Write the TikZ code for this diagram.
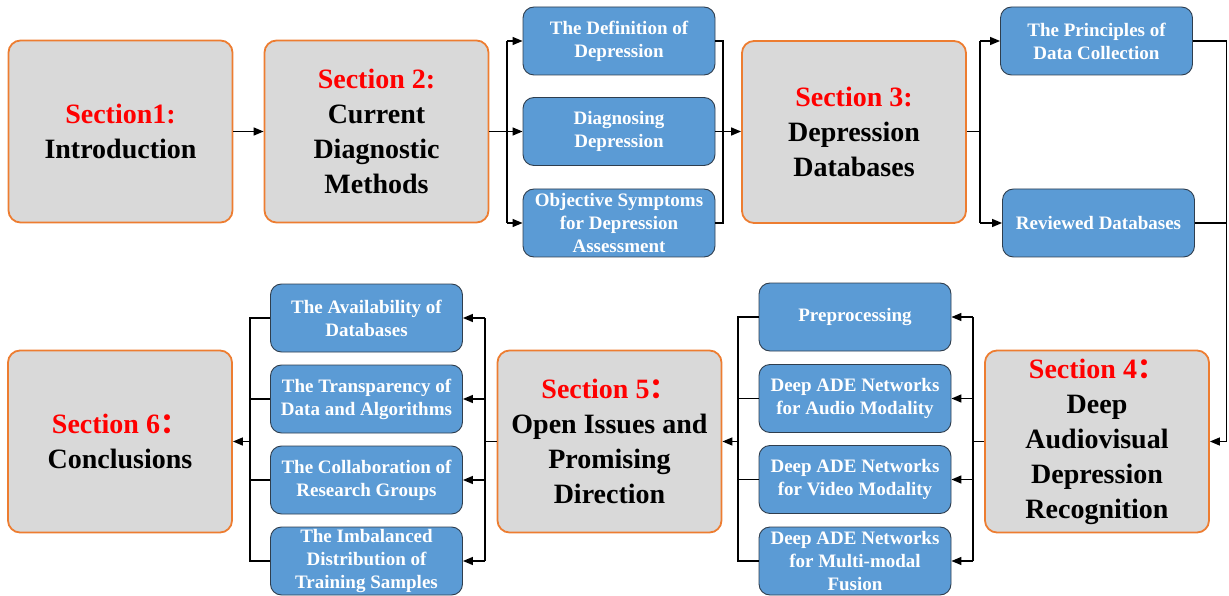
\documentclass[tikz,border=0pt]{standalone}
\usepackage{fontspec}
\setmainfont{Liberation Serif}
\newfontfamily\cjk{Noto Sans CJK SC}
\usetikzlibrary{arrows.meta}
\definecolor{sbox}{HTML}{D9D9D9}
\definecolor{sborder}{HTML}{ED7D31}
\definecolor{bfill}{HTML}{5B9BD5}
\definecolor{bborder}{HTML}{2F3E4E}
\begin{document}
\begin{tikzpicture}[x=1pt,y=-1pt,
  secbox/.style={draw=sborder, line width=1.8pt, fill=sbox, rounded corners=12pt,
    minimum width=224pt, minimum height=182pt, align=center,
    font=\fontsize{28}{35}\selectfont\bfseries, inner sep=0pt},
  subbox/.style={draw=bborder, line width=0.9pt, fill=bfill, rounded corners=11pt,
    minimum width=192pt, minimum height=68pt, align=center, text=white,
    font=\fontsize{19}{23}\selectfont\bfseries, inner sep=0pt},
  conn/.style={line width=1.4pt, draw=black},
  arr/.style={conn, -{Triangle[length=10pt,width=8pt]}}]
\useasboundingbox (0,0) rectangle (1229,596);
% section boxes
\node[secbox] (s1) at (120.5,131.5) {\textcolor{red}{Section1:}\\Introduction};
\node[secbox] (s2) at (376.5,131.5) {\textcolor{red}{Section 2:}\\Current\\Diagnostic\\Methods};
\node[secbox] (s3) at (854,132) {\textcolor{red}{Section 3:}\\Depression\\Databases};
\node[secbox] (s4) at (1097,441.5) {\textcolor{red}{Section 4{\cjk：}}\\Deep\\Audiovisual\\Depression\\Recognition};
\node[secbox] (s5) at (609.5,441.5) {\textcolor{red}{Section 5{\cjk：}}\\Open Issues and\\Promising\\Direction};
\node[secbox] (s6) at (120,441.5) {\textcolor{red}{Section 6{\cjk：}}\\Conclusions};
% sub boxes row 1
\node[subbox] (def) at (619,41) {The Definition of\\Depression};
\node[subbox] (diag) at (619,131.5) {Diagnosing\\Depression};
\node[subbox] (obj) at (619,223) {Objective Symptoms\\for Depression\\Assessment};
\node[subbox] (prin) at (1096.5,41) {The Principles of\\Data Collection};
\node[subbox] (rev) at (1098.5,223) {Reviewed Databases};
% sub boxes row 2
\node[subbox] (pre) at (855,317) {Preprocessing};
\node[subbox] (aud) at (855,398.5) {Deep ADE Networks\\for Audio Modality};
\node[subbox] (vid) at (855,479.5) {Deep ADE Networks\\for Video Modality};
\node[subbox] (fus) at (855,561) {Deep ADE Networks\\for Multi-modal\\Fusion};
\node[subbox] (avail) at (366.5,318) {The Availability of\\Databases};
\node[subbox] (transp) at (366.5,399) {The Transparency of\\Data and Algorithms};
\node[subbox] (collab) at (366.5,480) {The Collaboration of\\Research Groups};
\node[subbox] (imbal) at (366.5,561) {The Imbalanced\\Distribution of\\Training Samples};
% connectors
\draw[arr] (s1.east) -- (s2.west);
% section 2 fan
\coordinate (f2) at (507,131.5);
\draw[conn] (s2.east) -- (f2);
\draw[conn] (f2 |- def.west) -- (f2 |- obj.west);
\draw[arr] (f2 |- def.west) -- (def.west);
\draw[arr] (f2) -- (diag.west);
\draw[arr] (f2 |- obj.west) -- (obj.west);
% merge into section 3
\coordinate (m2) at (723,131.5);
\draw[conn] (def.east) -| (m2 |- obj.east) -- (obj.east);
\draw[arr] (diag.east) -- (diag.east -| s3.west);
% section 3 fan
\coordinate (f3) at (980,131.5);
\draw[conn] (s3.east |- f3) -- (f3);
\draw[conn] (f3 |- prin.west) -- (f3 |- rev.west);
\draw[arr] (f3 |- prin.west) -- (prin.west);
\draw[arr] (f3 |- rev.west) -- (rev.west);
% into section 4
\coordinate (m3) at (1226.5,0);
\draw[conn] (prin.east) -| (m3 |- rev.east);
\draw[arr] (rev.east) -| (m3 |- s4.east) -- (s4.east);
% section 4 fan
\coordinate (f4) at (973,441.5);
\draw[conn] (s4.west) -- (f4);
\draw[conn] (f4 |- pre.east) -- (f4 |- fus.east);
\draw[arr] (f4 |- pre.east) -- (pre.east);
\draw[arr] (f4 |- aud.east) -- (aud.east);
\draw[arr] (f4 |- vid.east) -- (vid.east);
\draw[arr] (f4 |- fus.east) -- (fus.east);
% merge into section 5
\coordinate (m4) at (738,441.5);
\draw[conn] (pre.west) -| (m4 |- fus.west) -- (fus.west);
\draw[conn] (aud.west) -- (aud.west -| m4);
\draw[conn] (vid.west) -- (vid.west -| m4);
\draw[arr] (m4) -- (s5.east);
% section 5 fan
\coordinate (f5) at (485,441.5);
\draw[conn] (s5.west) -- (f5);
\draw[conn] (f5 |- avail.east) -- (f5 |- imbal.east);
\draw[arr] (f5 |- avail.east) -- (avail.east);
\draw[arr] (f5 |- transp.east) -- (transp.east);
\draw[arr] (f5 |- collab.east) -- (collab.east);
\draw[arr] (f5 |- imbal.east) -- (imbal.east);
% merge into section 6
\coordinate (m5) at (250,441.5);
\draw[conn] (avail.west) -| (m5 |- imbal.west) -- (imbal.west);
\draw[conn] (transp.west) -- (transp.west -| m5);
\draw[conn] (collab.west) -- (collab.west -| m5);
\draw[arr] (m5) -- (s6.east);
\end{tikzpicture}
\end{document}
